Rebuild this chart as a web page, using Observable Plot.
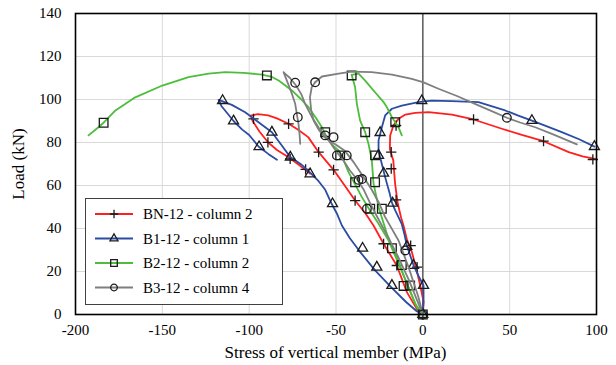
<!DOCTYPE html>
<html><head><meta charset="utf-8">
<script src="https://cdn.jsdelivr.net/npm/d3@7"></script>
<script src="https://cdn.jsdelivr.net/npm/@observablehq/plot@0.6"></script>
<style>
body{margin:0;background:#fff;}
#chart{width:616px;height:365px;}
</style></head><body><div id="chart"></div>
<script>
// ---- series meta ----
const seriesNames = ["BN-12 - column 2", "B1-12 - column 1", "B2-12 - column 2", "B3-12 - column 4"];
const xTicks = [-200, -150, -100, -50, 0, 50, 100];
const yTicks = [0, 20, 40, 60, 80, 100, 120, 140];
const xTitle = "Stress of vertical member (MPa)";
const yTitle = "Load (kN)";

// ---- BN-12 (red) : [stress MPa, load kN] ----
const bnRight = [[0,0],[0.4,6],[-1.5,13.5],[-3.5,20.5],[-6.3,29],[-9.2,35],[-11,41],[-12.5,45],[-14.4,51.5],[-16,61],[-17,71.6],[-19,77],[-18.8,83.3],[-16.9,88],[-14,91],[-10,93],[-4.4,93.8],[3.3,94.1],[16.7,93],[29.2,90.7],[45.5,86.4],[57,83.5],[69.5,80.6],[84,75.5],[92,73.5],[99.2,72.4]];
const bnUp = [[0,0],[-3.5,2.6],[-9.2,10.4],[-15,22.8],[-22.6,32.9],[-28.4,41.4],[-33,47],[-39,53],[-45,60],[-51.4,67.3],[-60,75.5],[-66,82.5],[-72,86],[-77.3,88.7],[-84,91.2],[-89,92.6],[-95,93.2],[-99,92.5]];
const bnBack = [[-99,92.5],[-98,90],[-94,85],[-89,80],[-84,76.5],[-78,73.5],[-72,70],[-68,67.5],[-65,65.5]];
const bnMarks = [[0,0],[-3.3,22],[-7,32],[-15.4,53.3],[-18.2,67.8],[-18.2,75.5],[-15.4,87.9],[29.2,90.7],[69.5,80.6],[97.9,72.1],[-15,22.8],[-22.6,32.9],[-39,53],[-51.4,67.3],[-60,75.5],[-77.3,88.7],[-97.5,91],[-89.2,80.1],[-76.4,72.4],[-67.5,67.5]];

// ---- B1-12 (blue) ----
const b1Right = [[0,0],[0.4,6],[0.4,13.5],[-2.5,18],[-5.4,23],[-7.5,28],[-9.2,32],[-10.5,37],[-12.1,42],[-15.9,48.4],[-17.8,52],[-19,56],[-21.7,63.9],[-23.6,70],[-25.5,76],[-25.5,81],[-23.6,87.1],[-21.7,92.6],[-17.8,95.7],[-12.1,97.2],[-2.5,98.8],[5,99.5],[16.7,99.2],[32,98.8],[47.4,94.9],[55,92.5],[62.8,90.2],[70,88],[80,84.8],[90,81.5],[98.8,78.1]];
const b1Up = [[0,0],[-3.5,1.5],[-9.5,5.7],[-18,12.5],[-27.5,20.5],[-36.5,29.5],[-42,35.5],[-46.6,41.4],[-49.5,47],[-52.5,51.5],[-56.2,58],[-60,62],[-64.9,66],[-70,69.8],[-76.3,73.2],[-81.2,78.6],[-86.9,84.8],[-94.6,89.4],[-102.3,94.1],[-110,97.5],[-117.5,99.8]];
const b1Back = [[-117.5,99.8],[-116,97],[-112,93],[-109,90],[-104,86],[-100,83.5],[-94.5,78],[-89,74.7],[-84,72]];
const b1Marks = [[0,0],[0.4,13.5],[-5.4,22.8],[-9.2,31.6],[-17.4,51.8],[-22.6,65.7],[-25.5,74],[-24.6,84.6],[-0.6,99.4],[62.8,90.2],[98.8,78.1],[-17.8,13.5],[-26.5,22],[-34.7,30.8],[-52,51.5],[-64.9,65.4],[-76.3,73.2],[-86.9,84.8],[-115.3,99.5],[-109,90],[-94.3,78]];

// ---- B2-12 (green) ----
const b2Big = [[-192.5,83.3],[-188,86.3],[-183.8,89.2],[-177,94.9],[-165.6,101],[-150,106.5],[-134.9,110.4],[-123.4,112],[-113.8,112.7],[-103.2,112.4],[-92.7,111.6],[-86.9,110.5],[-83,108.8],[-75.4,104.2],[-70,100],[-65.8,96.4],[-62,92],[-58.1,87.1],[-55,82],[-51,78],[-48.5,76.3],[-45.5,71.5],[-42.8,66.2],[-39,60.5],[-35.1,54.6],[-30.5,48.5],[-25.5,42.2],[-19.7,34.4],[-14,23.6],[-8.2,12.7],[-3.5,3.4],[0,0]];
const b2Peak = [[-41,111.5],[-39,105.7],[-38,98],[-36.1,90.2],[-33.2,84.8],[-31.3,79.4],[-29.4,72],[-28.4,61],[-25.5,50],[-20.7,37.5],[-15,26.7],[-9.2,14.3],[-4.4,5],[0,0]];
const b2Side = [[-41,111.5],[-37,112],[-33.2,108.8],[-28.4,104.2],[-22.6,98.8],[-20.7,96.4],[-17.8,91.8],[-15.9,89.4],[-14,87.1],[-12.1,83.3]];
const b2Marks = [[0,0],[-183.8,89.2],[-89.8,111.2],[-56.2,84.8],[-47.6,74],[-39,61.5],[-30.3,49.2],[-17.8,30.8],[-12.1,23],[-11.1,13.3],[-41,111.2],[-33.2,84.8],[-27.5,74],[-27.5,61.5],[-23.6,49.2],[-7.3,13.5],[-15.9,89.4]];

// ---- B3-12 (grey) ----
const b3Top = [[-62,108],[-58.1,110.7],[-48.5,112],[-40.9,113],[-29.4,112.7],[-17.8,111.6],[-6.3,109.6],[0.4,108],[9,105],[20,101.5],[30,98],[40,94.5],[48.4,91.5],[56,89.3],[64.7,87.1],[75,83.8],[88.7,79.1]];
const b3Down = [[-62,108],[-64,105.7],[-65,101],[-64.3,95],[-62.9,90.2],[-60,86],[-56,82],[-50,79],[-44.7,76],[-40,71],[-35,65],[-29.4,58],[-25,51.5],[-21.7,45.3],[-14,34.4],[-8.2,22],[-2.5,8],[0,0]];
const b3Long = [[-80,112.5],[-76.5,110],[-73,106.5],[-70,102.5],[-67.8,98],[-64,92],[-60,87],[-56,83],[-52.5,79],[-49.5,75.5],[-46,72],[-42,67],[-38,63],[-34,58],[-30.5,52],[-26,45],[-20,36],[-14,26.5],[-8,16],[-3,6],[0,0]];
const b3Short = [[-80.2,112.7],[-78.3,108.8],[-75.4,102.7],[-73.5,98],[-72.5,93],[-71.6,88.7],[-71,84],[-70.6,79.4]];
const b3Marks = [[0,0],[-73.5,107.8],[-72,91.8],[-62,108],[48.4,91.5],[-56.2,83.3],[-51.4,82.5],[-49.5,74],[-43.8,74],[-37,62.6],[-35,63],[-32.2,49.2],[-10.1,29.8]];

// ---- styles ----
const FONT = "'Liberation Serif','Times New Roman',serif";
const colors = ["#ff1f1f", "#2b4ca3", "#4dbd3c", "#7f7f7f"];
const symbols = ["plus", "triangle2", "square2", "circle"];
const symR = [3.4, 4.8, 5.5, 4.3];
const markStroke = "#1a1a1a";

const seriesLines = [[bnRight, bnUp, bnBack], [b1Right, b1Up, b1Back], [b2Big, b2Peak, b2Side], [b3Top, b3Down, b3Long, b3Short]];
const seriesMarks = [bnMarks, b1Marks, b2Marks, b3Marks];

const toRows = (segs) => segs.flatMap((seg, k) => seg.map(([x, y]) => ({x, y, seg: k})));
const toPts = (arr) => arr.map(([x, y]) => ({x, y}));

const marks = [
  Plot.ruleX(xTicks.filter(v => v !== 0), {stroke: "#d9d9d9", strokeWidth: 1}),
  Plot.ruleY(yTicks, {stroke: "#d9d9d9", strokeWidth: 1}),
  Plot.ruleX([0], {stroke: "#595959", strokeWidth: 1.5})
];
seriesLines.forEach((segs, i) => {
  marks.push(Plot.line(toRows(segs), {x: "x", y: "y", z: "seg", stroke: colors[i], strokeWidth: 1.8}));
  marks.push(Plot.dot(toPts(seriesMarks[i]), {x: "x", y: "y", symbol: symbols[i], r: symR[i], stroke: markStroke, fill: "none", strokeWidth: 1.3}));
});
marks.push(Plot.frame({stroke: "#000", strokeWidth: 1.6}));

const chart = Plot.plot({
  width: 616, height: 365,
  marginLeft: 75, marginRight: 20, marginTop: 13, marginBottom: 51,
  style: {fontFamily: FONT, fontSize: "15px", color: "#000", background: "#fff"},
  x: {domain: [-200, 100], ticks: xTicks, tickSize: 0, tickPadding: 10, tickFormat: d => String(d), label: null},
  y: {domain: [0, 140], ticks: yTicks, tickSize: 0, tickPadding: 14, tickFormat: d => String(d), label: null},
  marks
});
document.getElementById("chart").append(chart);

// ---- axis titles and legend ----
const svg = d3.select(chart);
svg.append("text").attr("x", 335.5).attr("y", 358).attr("text-anchor", "middle")
  .attr("font-family", FONT).attr("font-size", 17).attr("fill", "#000").text(xTitle);
svg.append("text").attr("transform", "translate(24,164) rotate(-90)").attr("text-anchor", "middle")
  .attr("font-family", FONT).attr("font-size", 17).attr("fill", "#000").text(yTitle);

const lg = svg.append("g").attr("font-family", FONT).attr("font-size", 15).attr("text-anchor", "start");
lg.append("rect").attr("x", 85.5).attr("y", 198.5).attr("width", 197).attr("height", 106)
  .attr("fill", "#fff").attr("stroke", "#404040").attr("stroke-width", 1);
const d3sym = [d3.symbolPlus, d3.symbolTriangle2, d3.symbolSquare2, d3.symbolCircle];
const legR = [2.8, 3.8, 4.2, 3.3];
seriesNames.forEach((name, i) => {
  const yy = 214 + i * 24.5;
  lg.append("line").attr("x1", 95).attr("x2", 133).attr("y1", yy).attr("y2", yy)
    .attr("stroke", colors[i]).attr("stroke-width", 1.8);
  lg.append("path").attr("transform", `translate(114,${yy})`)
    .attr("d", d3.symbol(d3sym[i], Math.PI * legR[i] * legR[i])())
    .attr("fill", "none").attr("stroke", markStroke).attr("stroke-width", 1.3);
  lg.append("text").attr("x", 143).attr("y", yy + 5).attr("text-anchor", "start").attr("fill", "#000").text(name);
});
</script>
</body></html>
